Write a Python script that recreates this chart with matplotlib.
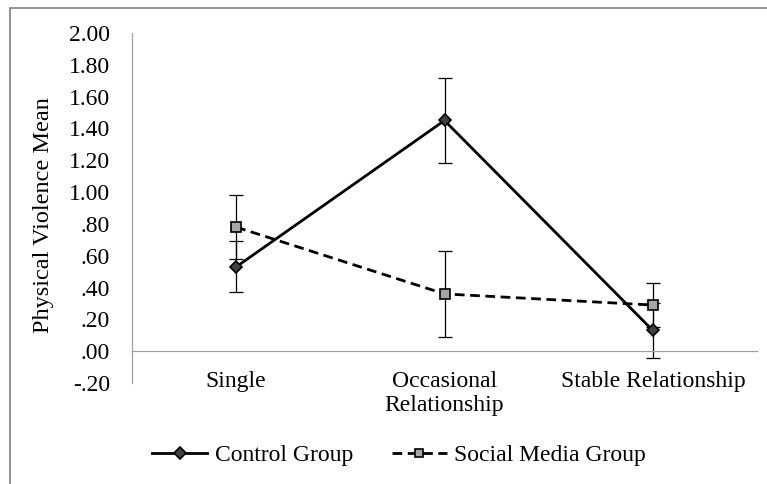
import matplotlib
matplotlib.use("Agg")
import matplotlib.pyplot as plt
from matplotlib.patches import Rectangle
from matplotlib.ticker import FuncFormatter

categories = ["Single", "Occasional\nRelationship", "Stable Relationship"]
control_mean = [0.53, 1.45, 0.13]
control_err = [0.16, 0.27, 0.17]
social_mean = [0.78, 0.36, 0.29]
social_err = [0.20, 0.27, 0.14]
y_ticks = [-0.20, 0.00, 0.20, 0.40, 0.60, 0.80, 1.00, 1.20, 1.40, 1.60, 1.80, 2.00]

plt.rcParams['font.family'] = ['Liberation Serif', 'DejaVu Serif']
FS = 17

fig = plt.figure(figsize=(7.67, 4.84), dpi=100)
ax = fig.add_axes([132/767, 1-383/484, (757-132)/767, (383-33)/484])

x = list(range(len(categories)))

ax.errorbar(x, control_mean, yerr=control_err, fmt='none', ecolor='black',
            elinewidth=0.9, capsize=5, capthick=0.9, zorder=2)
ax.errorbar(x, social_mean, yerr=social_err, fmt='none', ecolor='black',
            elinewidth=0.9, capsize=5, capthick=0.9, zorder=2)

l1, = ax.plot(x, control_mean, color='black', lw=2.0, marker='D', markersize=6.5,
              markerfacecolor='#404040', markeredgecolor='black', markeredgewidth=1.2,
              label='Control Group', zorder=3)
l2, = ax.plot(x, social_mean, color='black', lw=2.0, ls=(0, (3.5, 2)), marker='s',
              markersize=6.5, markerfacecolor='#a6a6a6', markeredgecolor='black',
              markeredgewidth=1.2, label='Social Media Group', zorder=3)

ax.set_xlim(-0.5, len(categories) - 0.5)
ax.set_ylim(-0.20, 2.00)
ax.set_yticks(y_ticks)

def fmt(v, pos):
    s = f"{v:.2f}"
    if s.startswith("0."):
        s = s[1:]
    elif s.startswith("-0."):
        s = "-" + s[2:]
    return s

ax.yaxis.set_major_formatter(FuncFormatter(fmt))
ax.set_xticks(x)
ax.set_xticklabels(categories)

for s in ['top', 'right']:
    ax.spines[s].set_visible(False)
ax.spines['bottom'].set_position(('data', 0))
ax.spines['bottom'].set_color('#a0a0a0')
ax.spines['left'].set_color('#a0a0a0')
ax.spines['bottom'].set_linewidth(0.9)
ax.spines['left'].set_linewidth(0.9)

ax.tick_params(axis='y', length=0, labelsize=FS, pad=16)
ax.tick_params(axis='x', length=0, labelsize=FS, pad=14)

ax.set_ylabel("Physical Violence Mean", fontsize=17.5)
ax.yaxis.set_label_coords(-0.125, 0.48)

leg = fig.legend(handles=[l1, l2], loc='center', bbox_to_anchor=(399/767, 1-455/484),
                 ncol=2, frameon=False, fontsize=FS, handlelength=2.33,
                 columnspacing=1.65, handletextpad=0.3, markerscale=0.9)

fig.patches.append(Rectangle((10/767, -0.05), 1.2, 1.05 - 8/484, transform=fig.transFigure,
                             fill=False, edgecolor='#808080', linewidth=1.2))

fig.savefig("out.png", dpi=100)
